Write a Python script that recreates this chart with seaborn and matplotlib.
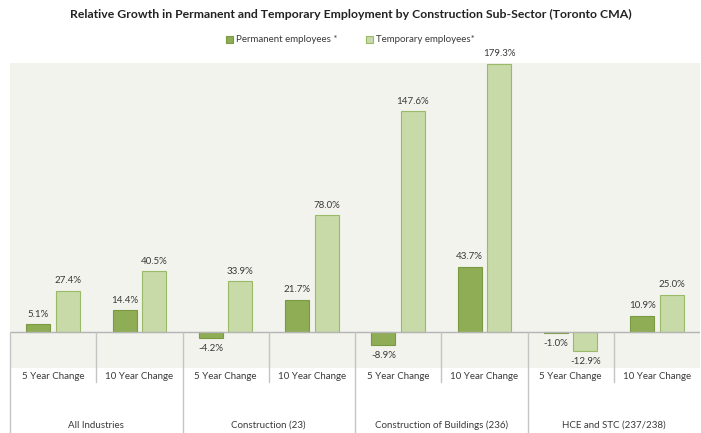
import matplotlib
matplotlib.use("Agg")
import matplotlib.pyplot as plt
from matplotlib.patches import Patch
import seaborn as sns
import pandas as pd

# data
groups = ["All Industries", "Construction (23)", "Construction of Buildings (236)", "HCE and STC (237/238)"]
periods = ["5 Year Change", "10 Year Change"]
series = ["Permanent employees *", "Temporary employees*"]
permanent = [5.1, 14.4, -4.2, 21.7, -8.9, 43.7, -1.0, 10.9]
temporary = [27.4, 40.5, 33.9, 78.0, 147.6, 179.3, -12.9, 25.0]

slots = [g + "|" + p for g in groups for p in periods]
df = pd.DataFrame({
    "slot": slots * 2,
    "series": [series[0]] * len(slots) + [series[1]] * len(slots),
    "value": permanent + temporary,
})

sns.set_style("white")
plt.rcParams["font.family"] = ["Lato", "DejaVu Sans"]

fill = {series[0]: "#8fad55", series[1]: "#c7daa7"}
edge = ["#7a9a42", "#9aba6a"]
txt = "#3a3a3a"

fig = plt.figure(figsize=(7.01, 4.33), dpi=100)
ax = fig.add_axes([10 / 701, 65 / 433, 690 / 701, 305 / 433])
ax.set_facecolor("#f1f3ec")

sns.barplot(data=df, x="slot", y="value", hue="series", order=slots,
            hue_order=series, palette=fill, saturation=1, width=0.68, gap=0.18,
            legend=False, ax=ax)

for cont, ec in zip(ax.containers, edge):
    for bar in cont:
        bar.set_edgecolor(ec)
        bar.set_linewidth(0.8)
    ax.bar_label(cont, fmt="%.1f%%", padding=4, fontsize=7, color=txt)

ax.set_xlim(-0.5, len(slots) - 0.5)
ax.set_ylim(-24.1, 179.9)
ax.set_yticks([])
ax.set_ylabel("")
ax.set_xlabel("")
for s in ax.spines.values():
    s.set_visible(False)

ax.axhline(0, color="#b4b4b4", lw=1, zorder=1)

# category axis: period labels and group labels
ax.set_xticks(range(len(slots)))
ax.set_xticklabels([p for g in groups for p in periods], fontsize=7, color=txt)
ax.tick_params(axis="x", length=0, pad=3)

sep_col = "#c4c4c4"
for i in range(len(groups)):
    # inner divider between 5 and 10 year
    ax.plot([2 * i + 0.5] * 2, [0, -33.4], color=sep_col, lw=1, clip_on=False)
    # group divider
    ax.plot([2 * i - 0.5] * 2, [0, -67.6], color=sep_col, lw=1, clip_on=False)
    ax.text(2 * i + 0.5, -0.187, groups[i], transform=ax.get_xaxis_transform(),
            ha="center", va="center", fontsize=7, color=txt)

fig.text(0.5, 1 - 14 / 433, "Relative Growth in Permanent and Temporary Employment by "
         "Construction Sub-Sector (Toronto CMA)", ha="center", va="center",
         fontsize=8.8, fontweight="bold", color="#222222")

handles = [Patch(facecolor=fill[s], edgecolor=e, lw=0.8, label=s) for s, e in zip(series, edge)]
leg = fig.legend(handles=handles, loc="center", bbox_to_anchor=(0.5, 1 - 40 / 433),
                 ncol=2, frameon=False, fontsize=7, handlelength=0.7, handleheight=0.7,
                 handletextpad=0.3, columnspacing=3)
for t in leg.get_texts():
    t.set_color(txt)

fig.savefig("out.png", dpi=100)
